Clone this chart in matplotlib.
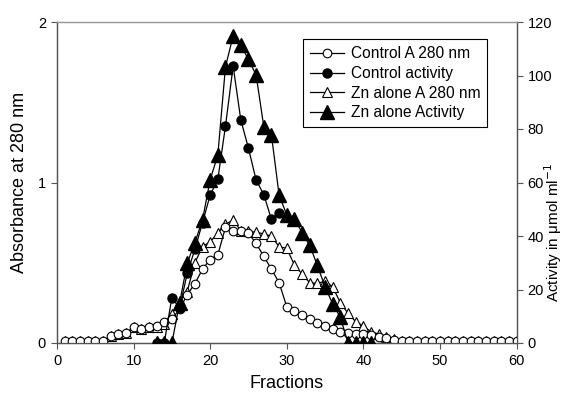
import matplotlib
matplotlib.use("Agg")
import matplotlib.pyplot as plt
import numpy as np

plt.rcParams['font.family'] = ['Liberation Sans', 'DejaVu Sans']

fractions = list(range(1, 61))

control_a280 = [0.01, 0.01, 0.01, 0.01, 0.01, 0.01, 0.044, 0.054, 0.06, 0.098,
                0.085, 0.098, 0.106, 0.133, 0.15, 0.21, 0.30, 0.37, 0.46, 0.52,
                0.55, 0.72, 0.70, 0.70, 0.685, 0.62, 0.54, 0.46, 0.376, 0.226,
                0.20, 0.174, 0.148, 0.123, 0.106, 0.09, 0.07, 0.06, 0.055, 0.055,
                0.05, 0.04, 0.03, 0.02, 0.012, 0.01, 0.01, 0.01, 0.01, 0.01,
                0.01, 0.01, 0.01, 0.01, 0.01, 0.01, 0.01, 0.01, 0.01, 0.01]

zn_a280 = [0.01, 0.01, 0.01, 0.01, 0.01, 0.01, 0.044, 0.054, 0.06, 0.098,
           0.085, 0.098, 0.10, 0.12, 0.18, 0.26, 0.32, 0.50, 0.60, 0.63,
           0.685, 0.74, 0.766, 0.70, 0.695, 0.69, 0.68, 0.665, 0.60, 0.59,
           0.486, 0.43, 0.375, 0.372, 0.385, 0.35, 0.25, 0.185, 0.133, 0.106,
           0.07, 0.056, 0.04, 0.025, 0.015, 0.01, 0.01, 0.01, 0.01, 0.01,
           0.01, 0.01, 0.01, 0.01, 0.01, 0.01, 0.01, 0.01, 0.01, 0.01]

control_act_fr = list(range(13, 30))
control_act = [0, 0, 17, 13, 26, 35, 45, 55.3, 61.2, 81.1, 103.5, 83.4, 72.8,
               60.9, 55.5, 46.2, 48.7]

zn_act_fr = list(range(13, 42))
zn_act = [0, 0, 0, 14.8, 29.8, 37.5, 46, 61, 70.3, 103.3, 114.8, 111.4, 106,
          100.2, 80.9, 77.8, 55.3, 47.9, 46.4, 41.3, 36.5, 29, 21, 14.6, 9.6,
          0, 0, 0, 0]

fig = plt.figure(figsize=(5.63, 4.00), dpi=100)
ax = fig.add_axes([57/563, 1-343/400, 459.5/563, 321/400])
ax2 = ax.twinx()

lw = 0.9
h1, = ax.plot(fractions, control_a280, '-o', color='black', lw=lw, ms=6.2,
              mfc='white', mec='black', mew=0.8, label='Control A 280 nm', zorder=3)
h3, = ax.plot(fractions, zn_a280, '-^', color='black', lw=lw, ms=6.8,
              mfc='white', mec='black', mew=0.8, label='Zn alone A 280 nm', zorder=2)
h2, = ax2.plot(control_act_fr, control_act, '-o', color='black', lw=lw, ms=6.5,
               mfc='black', mec='black', label='Control activity', zorder=3)
h4, = ax2.plot(zn_act_fr, zn_act, '-^', color='black', lw=lw, ms=9.5,
               mfc='black', mec='black', label='Zn alone Activity', zorder=4)

ax.set_xlim(0, 60)
ax.set_ylim(0, 2)
ax2.set_ylim(0, 120)
ax.set_xticks(range(0, 61, 10))
ax.set_yticks([0, 1, 2])
ax2.set_yticks(range(0, 121, 20))

spine_col = '#555555'
for a in (ax, ax2):
    for s in a.spines.values():
        s.set_color(spine_col)
        s.set_linewidth(0.9)
    a.spines['top'].set_color('#999999')
    a.tick_params(direction='out', length=4, width=0.8, color=spine_col,
                  labelsize=10.5, pad=4)

ax.set_xlabel('Fractions', fontsize=13, labelpad=5)
ax.set_ylabel('Absorbance at 280 nm', fontsize=13, labelpad=7)

fig.text(553.5/563, 1-232/400, 'Activity in μmol ml$^{-1}$', rotation=90,
         fontsize=11, ha='center', va='center')

leg = ax2.legend(handles=[h1, h2, h3, h4], loc='upper right',
                 bbox_to_anchor=(0.953, 0.97), fontsize=11.2, frameon=True,
                 fancybox=False, edgecolor='black', framealpha=1,
                 handlelength=2.2, handletextpad=0.4, borderpad=0.45,
                 labelspacing=0.3, numpoints=1)
leg.get_frame().set_linewidth(0.8)

fig.savefig('out.png', dpi=100)
